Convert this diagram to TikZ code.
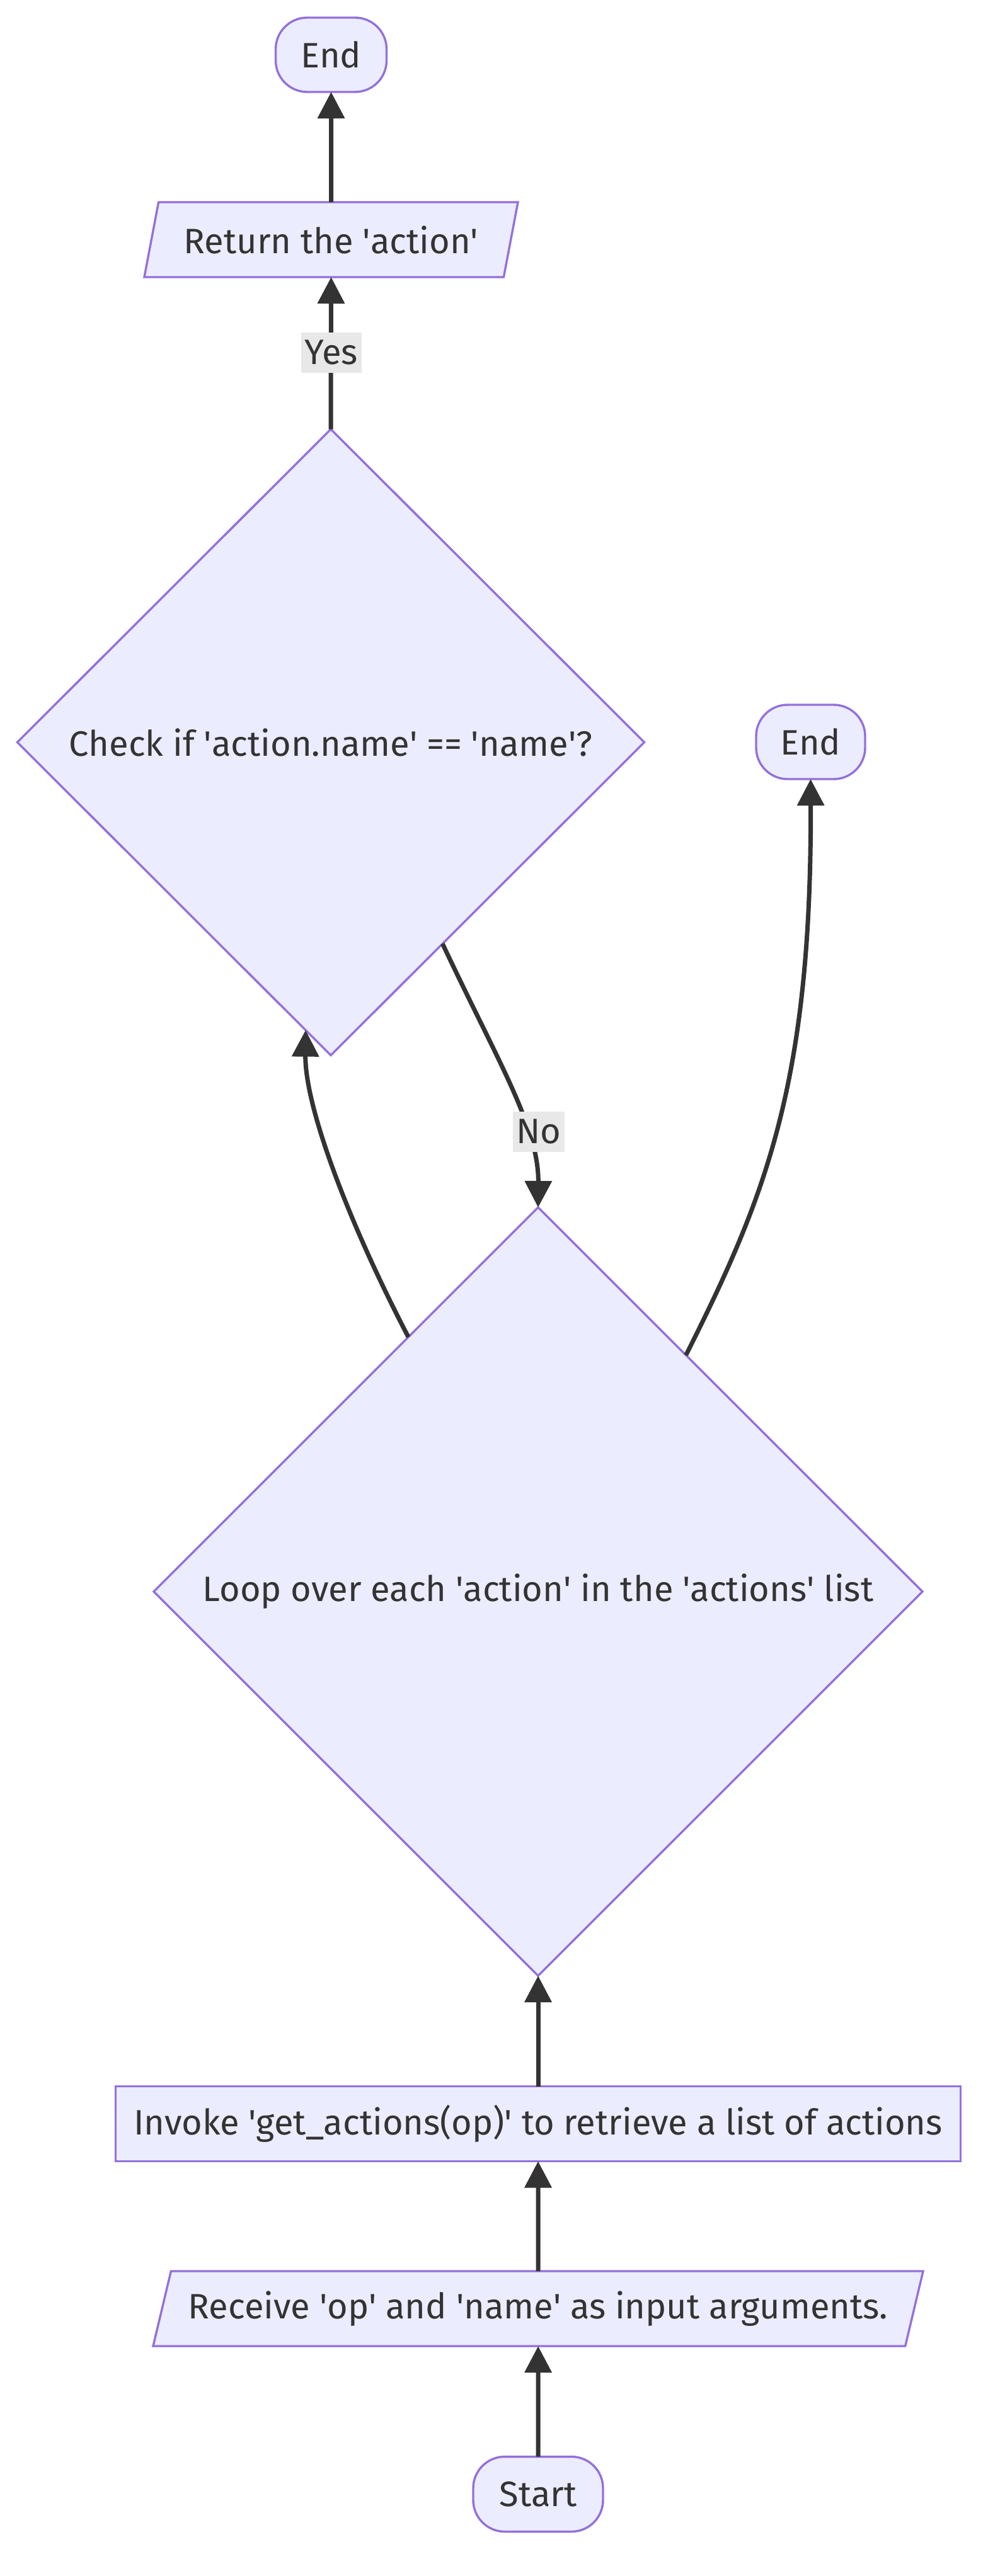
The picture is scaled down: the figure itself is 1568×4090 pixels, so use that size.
\documentclass[tikz,border=0pt]{standalone}
\usepackage{fontspec}
\setmainfont{Fira Sans}
\usetikzlibrary{shapes.geometric,arrows.meta,calc}
\definecolor{nodefill}{HTML}{ECECFF}
\definecolor{nodeline}{HTML}{9370DB}
\definecolor{ink}{HTML}{333333}
\definecolor{lblbg}{HTML}{E8E8E8}
\newcommand\mainfs{\fontsize{28pt}{34pt}\selectfont}
\newcommand\sq{\textquotesingle}
\begin{document}
\begin{tikzpicture}[x=0.5pt,y=-0.5pt,
  base/.style={draw=nodeline, fill=nodefill, line width=1.7pt, text=ink, font=\mainfs, inner sep=0pt, outer sep=0pt},
  term/.style={base, rectangle, rounded corners=25pt, minimum height=59pt},
  io/.style={base, trapezium, trapezium left angle=63, trapezium right angle=117, trapezium stretches body, minimum height=59.5pt},
  proc/.style={base, rectangle, minimum height=59.5pt},
  decision/.style={base, diamond, aspect=1},
  edge/.style={draw=ink, line width=3.5pt, -{Triangle[length=21pt,width=21pt]}},
  lbl/.style={fill=lblbg, text=ink, font=\mainfs, inner xsep=3pt, inner ysep=0pt, minimum height=32pt}]
\useasboundingbox (0,0) rectangle (1568,4090);
\fill[white] (0,0) rectangle (1568,4090);

\node[term, minimum width=88pt] (endtop) at (525.5,87) {End};
\node[io, minimum width=296.5pt] (ret) at (525.5,380.5) {Return the \sq action\sq};
\node[decision, minimum width=497.5pt, minimum height=497pt] (d1) at (525,1178.5) {Check if \sq action.name\sq{} == \sq name\sq?};
\node[term, minimum width=86.5pt] (endr) at (1286.5,1178) {End};
\node[decision, minimum width=610pt, minimum height=610pt] (d2) at (854,2527) {Loop over each \sq action\sq{} in the \sq actions\sq{} list};
\node[proc, minimum width=670.5pt] (inv) at (854,3372) {Invoke \sq get\_actions(op)\sq{} to retrieve a list of actions};
\node[io, minimum width=611pt] (rcv) at (854,3665.5) {Receive \sq op\sq{} and \sq name\sq{} as input arguments.};
\node[term, minimum width=103pt, minimum height=59.5pt] (start) at (854,3960) {Start};

\draw[edge] (start.north) -- (rcv.south);
\draw[edge] (rcv.north) -- (inv.south);
\draw[edge] (inv.north) -- (d2.south);
\draw[edge] (d2.117.4) .. controls (556,1946) and (484,1760) .. (d1.265.3);
\draw[edge] (d1.-61.8) .. controls (790,1685) and (855,1790) .. (d2.north);
\draw[edge] (d2.58.9) .. controls (1215,1900) and (1288,1720) .. (endr.south);
\draw[edge] (d1.north) -- (ret.south);
\draw[edge] (ret.north) -- (endtop.south);

\node[lbl] (yes) at (526,560) {Yes};
\node[lbl] (no) at (855,1797) {No};
\end{tikzpicture}
\end{document}
